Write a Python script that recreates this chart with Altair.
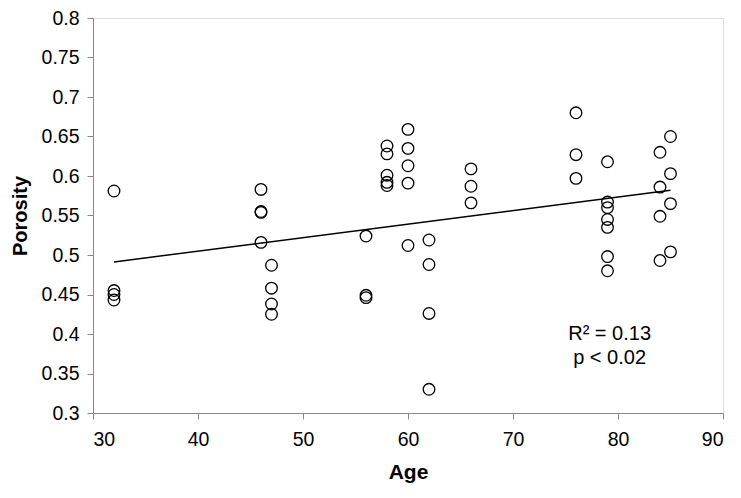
import altair as alt
import pandas as pd

ages = [32, 32, 32, 32,
        46, 46, 46, 46,
        47, 47, 47, 47,
        56, 56, 56,
        58, 58, 58, 58, 58,
        60, 60, 60, 60, 60,
        62, 62, 62, 62,
        66, 66, 66,
        76, 76, 76,
        79, 79, 79, 79, 79, 79, 79,
        84, 84, 84, 84,
        85, 85, 85, 85]
porosity = [0.581, 0.455, 0.450, 0.443,
            0.583, 0.555, 0.554, 0.516,
            0.487, 0.458, 0.438, 0.425,
            0.524, 0.449, 0.446,
            0.638, 0.628, 0.601, 0.592, 0.588,
            0.659, 0.635, 0.613, 0.591, 0.512,
            0.519, 0.488, 0.426, 0.330,
            0.609, 0.587, 0.566,
            0.680, 0.627, 0.597,
            0.618, 0.567, 0.560, 0.545, 0.535, 0.498, 0.480,
            0.630, 0.586, 0.549, 0.493,
            0.650, 0.603, 0.565, 0.504]

ann_text = ["R² = 0.13", "p < 0.02"]
ann_x = [79.2, 79.2]
ann_y = [0.400, 0.370]

x_ticks = [30, 40, 50, 60, 70, 80, 90]
y_ticks = [0.3, 0.35, 0.4, 0.45, 0.5, 0.55, 0.6, 0.65, 0.7, 0.75, 0.8]

df = pd.DataFrame({"Age": ages, "Porosity": porosity})
ann = pd.DataFrame({"t": ann_text, "x": ann_x, "y": ann_y})

FONT = "Liberation Sans"

xs = alt.Scale(domain=[30, 90], nice=False, zero=False)
ys = alt.Scale(domain=[0.3, 0.8], nice=False, zero=False)

xaxis = alt.Axis(values=x_ticks, title="Age", grid=False, labelFontSize=19.5,
                 titleFontSize=21, titleFontWeight="bold", labelPadding=11,
                 titlePadding=13, tickSize=6, format="d", labelOverlap=False)
yaxis = alt.Axis(values=y_ticks, title="Porosity", grid=False, labelFontSize=19.5,
                 titleFontSize=20, titleFontWeight="bold", labelPadding=8,
                 titlePadding=11, tickSize=6, format="~g", labelOverlap=False,
                 labelBound=False)

points = alt.Chart(df).mark_point(shape="circle", size=135, filled=False,
                                  color="black", strokeWidth=1.3, opacity=1).encode(
    x=alt.X("Age:Q", scale=xs, axis=xaxis, title="Age"),
    y=alt.Y("Porosity:Q", scale=ys, axis=yaxis, title="Porosity"),
)

line = alt.Chart(df).transform_regression("Age", "Porosity").mark_line(
    color="black", strokeWidth=1.5).encode(
    x=alt.X("Age:Q", scale=xs, axis=xaxis, title="Age"),
    y=alt.Y("Porosity:Q", scale=ys, axis=yaxis, title="Porosity"),
)

text = alt.Chart(ann).mark_text(font=FONT, fontSize=20, color="black").encode(
    x=alt.X("x:Q", scale=xs, axis=xaxis, title="Age"),
    y=alt.Y("y:Q", scale=ys, axis=yaxis, title="Porosity"),
    text="t:N",
)

chart = alt.layer(points, line, text).properties(
    width=630, height=395,
    autosize=alt.AutoSizeParams(type="none"),
    padding={"left": 85, "top": 10, "right": 10, "bottom": 75},
).configure_view(stroke=None).configure_axis(
    labelFont=FONT, titleFont=FONT, labelColor="black", titleColor="black",
    domainColor="black", domainWidth=1.8, tickColor="#666666", tickWidth=1,
).configure(background="white")

chart.save("out.html", embed_options={"renderer": "svg", "actions": False})
